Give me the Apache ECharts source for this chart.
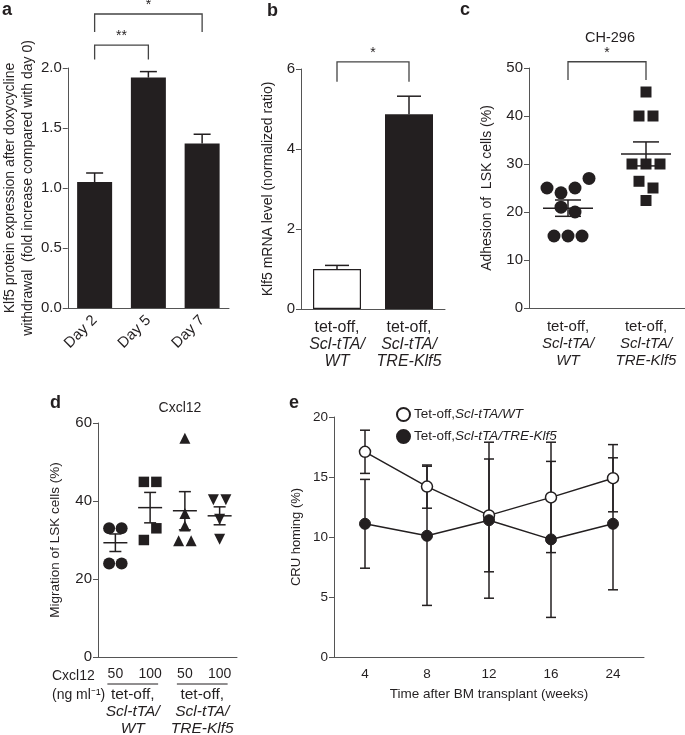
<!DOCTYPE html>
<html>
<head>
<meta charset="utf-8">
<script src="https://cdn.jsdelivr.net/npm/echarts@6/dist/echarts.min.js"></script>
<style>
  html, body { margin: 0; padding: 0; background: #fff; }
  #chart { width: 685px; height: 735px; }
</style>
</head>
<body>
<div id="chart"></div>
<script>
// ---- panel a: Klf5 protein after dox withdrawal
var aDays = ['Day 2', 'Day 5', 'Day 7'];
var aMean = [1.05, 1.92, 1.37];
var aSem = [0.075, 0.05, 0.078];

// ---- panel b: Klf5 mRNA
var bGroups = ['WT', 'TRE-Klf5'];
var bMean = [1.0, 4.87];
var bSem = [0.09, 0.45];

// ---- panel c: adhesion on CH-296 (points listed left to right)
var cGroups = ['WT', 'TRE-Klf5'];
var cWT = [25, 24, 25, 27, 21, 20, 15, 15, 15];
var cKlf5 = [45, 40, 40, 30, 30, 30, 26.4, 25, 22.4];
var cMean = [20.8, 32.1];
var cSem = [1.7, 2.5];

// ---- panel d: migration to Cxcl12
var dDoses = ['50', '100', '50', '100'];
var dWT50 = [33, 33, 24, 24];
var dWT100 = [44.9, 44.9, 30, 33];
var dKlf50 = [56.1, 36.8, 33.6, 29.8, 29.8];
var dKlf100 = [40.3, 40.3, 35.3, 30.2];
var dMean = [29.3, 38.3, 37.5, 36.2];
var dSem = [2.25, 3.9, 4.9, 2.3];

// ---- panel e: CRU homing
var eWeeks = ['4', '8', '12', '16', '24'];
var eWT = [17.1, 14.2, 11.8, 13.3, 14.9];
var eWTErr = [1.8, 1.8, 4.7, 4.6, 2.8];
var eKlf5 = [11.1, 10.1, 11.4, 9.8, 11.1];
var eKlf5Err = [3.7, 5.8, 6.5, 6.5, 5.5];

// significance brackets: [from, to, bar level, arm end, stars]
var aBrackets = [[0, 1, 2.19, 2.07, '**'], [0, 2, 2.45, 2.30, '*']];
var bBrackets = [[0, 1, 6.18, 5.68, '*']];
var cBrackets = [[0, 1, 51.3, 47.5, '*']];

var INK = '#231f20';
var AXIS = '#555';
var FONT = '"Liberation Sans", Arial, Helvetica, sans-serif';

function groupLabel(v) {
  return '{n|tet-off,}\n{i|Scl-tTA/}\n{i|' + v + '}';
}

// side-by-side offsets for points that would sit on top of each other
function spread(values, gap, step) {
  var idx = values.map(function (v, i) { return i; })
    .sort(function (p, q) { return values[q] - values[p]; });
  var off = new Array(values.length);
  var k = 0;
  while (k < idx.length) {
    var first = values[idx[k]], end = k;
    while (end + 1 < idx.length && first - values[idx[end + 1]] <= gap) end++;
    var members = idx.slice(k, end + 1).sort(function (p, q) { return p - q; });
    var n = members.length;
    members.forEach(function (m, j) { off[m] = (j - (n - 1) / 2) * step; });
    k = end + 1;
  }
  return off;
}

function dots(values, cat, axis, symbol, size, gap, step, rotate) {
  var off = spread(values, gap, step);
  return {
    type: 'scatter', xAxisIndex: axis, yAxisIndex: axis, silent: true, z: 3,
    symbol: symbol, symbolSize: size, symbolRotate: rotate || 0,
    itemStyle: { color: INK, opacity: 1 },
    data: values.map(function (v, i) {
      return { value: [cat, v], symbolOffset: [off[i], 0] };
    })
  };
}

function meanSem(mean, sem, axis, halfMean, halfCap) {
  return {
    type: 'custom', xAxisIndex: axis, yAxisIndex: axis, silent: true, z: 4,
    data: mean.map(function (m, i) { return [i, m, sem[i]]; }),
    renderItem: function (params, api) {
      var c = api.coord([api.value(0), api.value(1)]);
      var hi = api.coord([api.value(0), api.value(1) + api.value(2)]);
      var lo = api.coord([api.value(0), api.value(1) - api.value(2)]);
      var st = { stroke: INK, lineWidth: 1.5 };
      return { type: 'group', children: [
        { type: 'line', shape: { x1: c[0] - halfMean, y1: c[1], x2: c[0] + halfMean, y2: c[1] }, style: st },
        { type: 'line', shape: { x1: c[0], y1: hi[1], x2: c[0], y2: lo[1] }, style: st },
        { type: 'line', shape: { x1: c[0] - halfCap, y1: hi[1], x2: c[0] + halfCap, y2: hi[1] }, style: st },
        { type: 'line', shape: { x1: c[0] - halfCap, y1: lo[1], x2: c[0] + halfCap, y2: lo[1] }, style: st }
      ] };
    }
  };
}

// whiskers: up only (bars) or both ways (line plot)
function whiskers(mean, err, axis, halfCap, both, z) {
  return {
    type: 'custom', xAxisIndex: axis, yAxisIndex: axis, silent: true, z: z,
    data: mean.map(function (m, i) { return [i, m, err[i]]; }),
    renderItem: function (params, api) {
      var c = api.coord([api.value(0), api.value(1)]);
      var hi = api.coord([api.value(0), api.value(1) + api.value(2)]);
      var lo = both ? api.coord([api.value(0), api.value(1) - api.value(2)]) : c;
      var st = { stroke: INK, lineWidth: 1.5 };
      var kids = [
        { type: 'line', shape: { x1: c[0], y1: hi[1], x2: c[0], y2: lo[1] }, style: st },
        { type: 'line', shape: { x1: c[0] - halfCap, y1: hi[1], x2: c[0] + halfCap, y2: hi[1] }, style: st }
      ];
      if (both) kids.push({ type: 'line', shape: { x1: c[0] - halfCap, y1: lo[1], x2: c[0] + halfCap, y2: lo[1] }, style: st });
      return { type: 'group', children: kids };
    }
  };
}

function brackets(list, axis) {
  return {
    type: 'custom', xAxisIndex: axis, yAxisIndex: axis, silent: true, clip: false,
    data: list.map(function (b) { return [b[0], b[2]]; }),
    renderItem: function (params, api) {
      var b = list[params.dataIndex];
      var p0 = api.coord([b[0], b[2]]);
      var p1 = api.coord([b[1], b[2]]);
      var arm = api.coord([b[0], b[3]])[1];
      return { type: 'group', children: [
        { type: 'polyline', shape: { points: [[p0[0], arm], p0, p1, [p1[0], arm]] },
          style: { stroke: '#444', lineWidth: 1.3, fill: null } },
        { type: 'text', style: { text: b[4], x: (p0[0] + p1[0]) / 2, y: p0[1] - 2,
          align: 'center', verticalAlign: 'bottom', fill: INK, fontSize: 14, fontFamily: FONT } }
      ] };
    }
  };
}

function yAxisOf(grid, max, interval, name, gap, fs, nfs, digits) {
  return {
    type: 'value', gridIndex: grid, min: 0, max: max, interval: interval,
    name: name, nameLocation: 'middle', nameGap: gap,
    nameTextStyle: { fontSize: nfs, color: INK, fontFamily: FONT, lineHeight: 18 },
    axisLine: { show: true, lineStyle: { color: AXIS, width: 1 } },
    axisTick: { show: true, length: 5, lineStyle: { color: AXIS } },
    axisLabel: {
      fontSize: fs, color: INK, fontFamily: FONT, margin: 6,
      formatter: function (v) { return digits ? v.toFixed(digits) : String(v); }
    },
    splitLine: { show: false }
  };
}

function richLbl(fs) {
  return {
    n: { fontSize: fs, lineHeight: 17, color: INK, fontFamily: FONT },
    i: { fontSize: fs, lineHeight: 17, color: INK, fontFamily: FONT, fontStyle: 'italic' }
  };
}

function xAxisOf(grid, cats, label) {
  label.interval = 0;
  return {
    type: 'category', gridIndex: grid, data: cats,
    axisLine: { lineStyle: { color: AXIS, width: 1 } },
    axisTick: { alignWithLabel: true, length: 6, lineStyle: { color: AXIS } },
    axisLabel: label,
    splitLine: { show: false }
  };
}

var chart = echarts.init(document.getElementById('chart'));

var option = {
  animation: false,
  textStyle: { fontFamily: FONT, color: INK },
  title: [
    { text: 'a', left: 2, top: 1 },
    { text: 'b', left: 267, top: 2 },
    { text: 'c', left: 460, top: 1 },
    { text: 'd', left: 50, top: 394 },
    { text: 'e', left: 289, top: 394 },
    { text: 'CH-296', left: 610, top: 30, textAlign: 'center',
      textStyle: { fontSize: 14.5, fontWeight: 'normal', color: INK, fontFamily: FONT } },
    { text: 'Cxcl12', left: 180, top: 401, textAlign: 'center',
      textStyle: { fontSize: 14, fontWeight: 'normal', color: INK, fontFamily: FONT } }
  ].map(function (t, i) {
    if (i < 5) t.textStyle = { fontSize: 18, fontWeight: 'bold', color: INK, fontFamily: FONT };
    t.padding = 0;
    return t;
  }),
  legend: {
    left: 391, top: 402, orient: 'vertical', itemGap: 7,
    itemWidth: 13, itemHeight: 13, icon: 'circle',
    data: ['WT', 'TRE-Klf5'],
    formatter: function (n) {
      return '{n|Tet-off,}{i|Scl-tTA/' + n + '}';
    },
    textStyle: {
      padding: [0, 0, 0, -1],
      rich: {
        n: { fontSize: 13.5, color: INK, fontFamily: FONT },
        i: { fontSize: 13.5, color: INK, fontFamily: FONT, fontStyle: 'italic' }
      }
    }
  },
  grid: [
    { left: 66, top: 68, width: 163, height: 240 },
    { left: 301, top: 69, width: 144, height: 240 },
    { left: 529, top: 68, width: 156, height: 240 },
    { left: 98, top: 423, width: 139, height: 234 },
    { left: 334, top: 417, width: 310, height: 240 }
  ],
  xAxis: [
    xAxisOf(0, aDays, { rotate: 45, fontSize: 15, color: INK, fontFamily: FONT, margin: 10 }),
    xAxisOf(1, bGroups, { formatter: groupLabel, rich: richLbl(16), margin: 10 }),
    xAxisOf(2, cGroups, { formatter: groupLabel, rich: richLbl(15), margin: 10 }),
    xAxisOf(3, dDoses, { fontSize: 14, color: INK, fontFamily: FONT, margin: 10 }),
    Object.assign(xAxisOf(4, eWeeks, { fontSize: 13.5, color: INK, fontFamily: FONT, margin: 10 }), {
      name: 'Time after BM transplant (weeks)', nameLocation: 'middle', nameGap: 30,
      nameTextStyle: { fontSize: 13.5, color: INK, fontFamily: FONT }
    })
  ],
  yAxis: [
    yAxisOf(0, 2, 0.5, 'Klf5 protein expression after doxycycline\nwithdrawal  (fold increase compared with day 0)', 22, 15, 14, 1),
    yAxisOf(1, 6, 2, 'Klf5 mRNA level (normalized ratio)', 24, 15, 14, 0),
    yAxisOf(2, 50, 10, 'Adhesion of  LSK cells (%)', 33, 15, 14, 0),
    yAxisOf(3, 60, 20, 'Migration of LSK cells (%)', 34, 15, 13.5, 0),
    yAxisOf(4, 20, 5, 'CRU homing (%)', 29, 13.5, 13, 0)
  ],
  series: [
    // a
    { type: 'bar', xAxisIndex: 0, yAxisIndex: 0, barWidth: 35, silent: true,
      itemStyle: { color: INK }, data: aMean },
    whiskers(aMean, aSem, 0, 8.5, false, 1),
    brackets(aBrackets, 0),
    // b
    { type: 'bar', xAxisIndex: 1, yAxisIndex: 1, barWidth: 48, silent: true,
      data: bMean.map(function (v, i) {
        return { value: v, itemStyle: i === 0
          ? { color: '#fff', borderColor: INK, borderWidth: 1.2 }
          : { color: INK } };
      }) },
    whiskers(bMean, bSem, 1, 12, false, 1),
    brackets(bBrackets, 1),
    // c
    dots(cWT, 0, 2, 'circle', 13, 3.2, 14),
    dots(cKlf5, 1, 2, 'rect', 11, 3.2, 14),
    meanSem(cMean, cSem, 2, 25, 13),
    brackets(cBrackets, 2),
    // d
    dots(dWT50, 0, 3, 'circle', 12, 3.1, 12.5),
    dots(dWT100, 1, 3, 'rect', 10.5, 3.1, 12.5),
    dots(dKlf50, 2, 3, 'triangle', 11, 3.1, 12.5),
    dots(dKlf100, 3, 3, 'triangle', 11, 3.1, 12.5, 180),
    meanSem(dMean, dSem, 3, 12, 6),
    // e
    whiskers(eWT, eWTErr, 4, 5, true, 1),
    whiskers(eKlf5, eKlf5Err, 4, 5, true, 1),
    { name: 'WT', type: 'line', xAxisIndex: 4, yAxisIndex: 4, z: 3, silent: true,
      symbol: 'circle', symbolSize: 11,
      itemStyle: { color: '#fff', borderColor: INK, borderWidth: 1.5 },
      lineStyle: { color: INK, width: 1.5 }, data: eWT },
    { name: 'TRE-Klf5', type: 'line', xAxisIndex: 4, yAxisIndex: 4, z: 4, silent: true,
      symbol: 'circle', symbolSize: 11,
      itemStyle: { color: INK, borderColor: INK, borderWidth: 1 },
      lineStyle: { color: INK, width: 1.5 }, data: eKlf5 }
  ]
};

chart.setOption(option);

// dose / genotype labels under panel d, placed from the axis itself
var px = function (i) { return chart.convertToPixel({ xAxisIndex: 3 }, i); };
var baseY = chart.convertToPixel({ yAxisIndex: 3 }, 0);
var txt = function (s, x, y, align, italic, fs) {
  return { type: 'text', x: x, y: y, silent: true,
    style: { text: s, fill: INK, fontSize: fs || 15.5, fontFamily: FONT, align: align,
      verticalAlign: 'middle', fontStyle: italic ? 'italic' : 'normal' } };
};
var graphics = [
  txt('Cxcl12', 52, baseY + 19, 'left', false, 14),
  txt('(ng ml\u207B\u00B9)', 52, baseY + 38, 'left', false, 14)
];
[['WT', 0, 1], ['TRE-Klf5', 2, 3]].forEach(function (g) {
  var x0 = px(g[1]), x1 = px(g[2]), mid = (x0 + x1) / 2;
  graphics.push({ type: 'line', silent: true,
    shape: { x1: x0 - 8, y1: baseY + 27, x2: x1 + 8, y2: baseY + 27 },
    style: { stroke: INK, lineWidth: 1 } });
  graphics.push(txt('tet-off,', mid, baseY + 38, 'center'));
  graphics.push(txt('Scl-tTA/', mid, baseY + 55, 'center', true));
  graphics.push(txt(g[0], mid, baseY + 72, 'center', true));
});
chart.setOption({ graphic: graphics });
</script>
</body>
</html>
